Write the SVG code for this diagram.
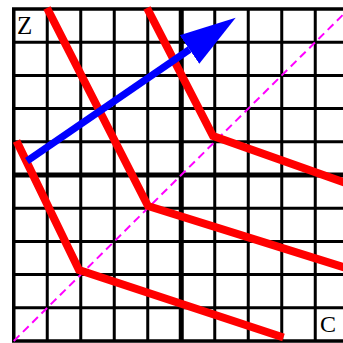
<svg xmlns="http://www.w3.org/2000/svg" width="343" height="343" viewBox="0 0 343 343">
<style>
.g{stroke:#000;stroke-width:3;fill:none}
.gb{stroke:#000;stroke-width:3.5;fill:none}
.gt{stroke:#000;stroke-width:5;fill:none}
.red{stroke:#ff0000;stroke-width:8;fill:none;stroke-linejoin:miter;stroke-linecap:butt}
.diag{stroke:#ff00ff;stroke-width:2;stroke-dasharray:8,5;fill:none}
.lbl{font-family:"Liberation Serif","Times New Roman",serif;fill:#000}
</style>
<defs>
<marker id="ah" markerUnits="userSpaceOnUse" markerWidth="60" markerHeight="40" viewBox="0 -20 60 40" refX="0" refY="0" orient="auto">
<path d="M0,-17.3 L56,0 L0,17.3 z" fill="#0000ff"/>
</marker>
</defs>
<rect width="343" height="343" fill="#fff"/>
<g id="grid">
<path class="g" d="M47.25,9V341M80.75,9V341M114.25,9V341M147.75,9V341M214.75,9V341M248.25,9V341M281.75,9V341M315.25,9V341"/>
<path class="g" d="M13.75,42.2H348.75M13.75,75.4H348.75M13.75,108.6H348.75M13.75,141.8H348.75M13.75,208.2H348.75M13.75,241.4H348.75M13.75,274.6H348.75M13.75,307.8H348.75"/>
<path class="gt" d="M181.25,9V341M13.75,175H348.75"/>
<rect class="gb" x="13.75" y="9" width="335" height="332"/>
</g>
<g id="diagonal">
<path class="diag" d="M13.75,341L348.75,9"/>
</g>
<g id="curves">
<path class="red" d="M47,8L148,206L346,268"/>
<path class="red" d="M147,8L213,136L346,183"/>
<path class="red" d="M16.5,141L79,270L283.5,337.5"/>
</g>
<g id="arrow">
<path d="M27,161L189.5,49.5" stroke="#0000ff" stroke-width="7" fill="none" marker-end="url(#ah)"/>
</g>
<g id="labels">
<text class="lbl" x="17" y="34" font-size="25">Z</text>
<text class="lbl" x="320" y="332" font-size="24">C</text>
</g>
</svg>
